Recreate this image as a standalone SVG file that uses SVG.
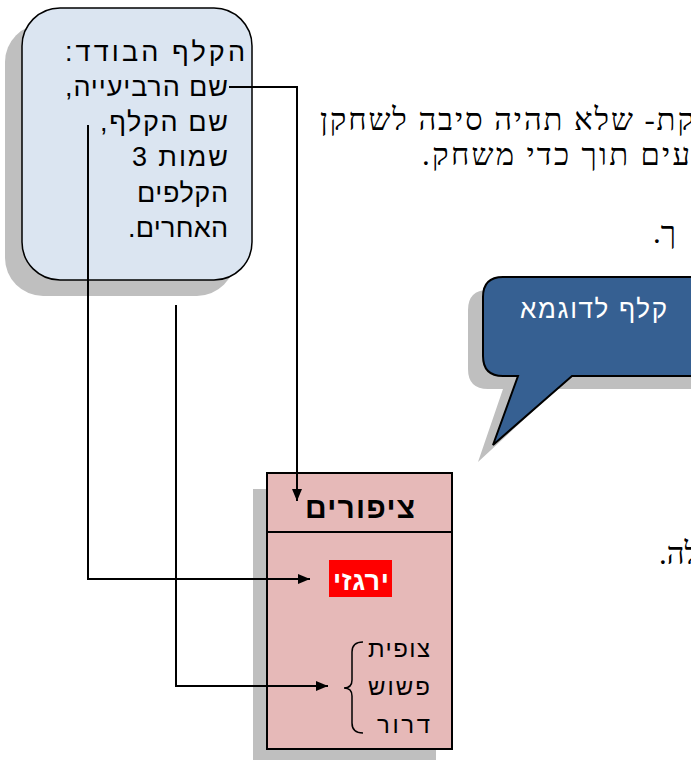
<svg xmlns="http://www.w3.org/2000/svg" width="691" height="760" viewBox="0 0 691 760">
<defs>
<style>
.heb{font-family:"Liberation Sans","DejaVu Sans",sans-serif;direction:rtl;unicode-bidi:embed}
.body{font-family:"Liberation Serif","DejaVu Serif",serif;font-size:31px;fill:#000;direction:rtl;unicode-bidi:embed}
.shadow{fill:#bfbfbf}
.conn{fill:none;stroke:#000;stroke-width:2}
</style>
<marker id="arr" viewBox="0 0 12 10" refX="12" refY="5" markerWidth="12" markerHeight="10" markerUnits="userSpaceOnUse" orient="auto">
<path d="M0,0 L12,5 L0,10 Z" fill="#000"/>
</marker>
</defs>
<rect width="691" height="760" fill="#fff"/>

<!-- background body text -->
<g id="body-text">
<text class="body" x="320" y="130" text-anchor="end" textLength="374" lengthAdjust="spacing">קת- שלא תהיה סיבה לשחקן</text>
<text class="body" x="422" y="165" text-anchor="end" textLength="268" lengthAdjust="spacing">עים תוך כדי משחק.</text>
<text class="body" x="653" y="243" text-anchor="end" font-size="38">ך.</text>
<text class="body" x="659" y="564" text-anchor="end">לה.</text>
</g>

<!-- single card description -->
<g id="card-note">
<rect class="shadow" x="5" y="24" width="230" height="272" rx="38"/>
<rect x="22" y="8" width="230" height="272" rx="38" fill="#dbe5f1" stroke="#000" stroke-width="1.5"/>
<g class="heb" font-size="27" fill="#000" text-anchor="start">
<text x="245" y="61" textLength="180" lengthAdjust="spacing">הקלף הבודד:</text>
<text x="228" y="96" textLength="163" lengthAdjust="spacing">שם הרביעייה,</text>
<text x="228" y="131" textLength="128" lengthAdjust="spacing">שם הקלף,</text>
<text x="228" y="166" textLength="96" lengthAdjust="spacing">שמות 3</text>
<text x="228" y="202" textLength="91" lengthAdjust="spacing">הקלפים</text>
<text x="228" y="237" textLength="100" lengthAdjust="spacing">האחרים.</text>
</g>
</g>

<!-- example callout -->
<g id="callout">
<path class="shadow" d="M488,290 H705 V389 H557 L478,462 L503,389 H488 Q468,389 468,369 V310 Q468,290 488,290 Z"/>
<path d="M503,277 H720 V376 H572 L493,445 L518,376 H503 Q483,376 483,356 V297 Q483,277 503,277 Z" fill="#366092" stroke="#000" stroke-width="2"/>
<text class="heb" x="667" y="318" font-size="26" fill="#fff" text-anchor="start" textLength="147" lengthAdjust="spacing">קלף לדוגמא</text>
</g>

<!-- bird card -->
<g id="bird-card">
<rect class="shadow" x="253" y="489" width="183" height="280"/>
<rect x="267" y="473" width="185" height="276" fill="#e6b9b8" stroke="#000" stroke-width="2"/>
<line x1="267" y1="532" x2="452" y2="532" stroke="#000" stroke-width="2"/>
<text class="heb" x="415" y="518" font-size="30" font-weight="bold" fill="#000" text-anchor="start" textLength="110" lengthAdjust="spacing">ציפורים</text>
<rect x="329" y="560" width="63" height="37" fill="#ff0000"/>
<text class="heb" x="389" y="590" font-size="27" font-weight="bold" fill="#fff" text-anchor="start" textLength="56" lengthAdjust="spacing">ירגזי</text>
<g class="heb" font-size="24" fill="#000" text-anchor="start">
<text x="430" y="657" textLength="62" lengthAdjust="spacing">צופית</text>
<text x="430" y="695" textLength="62" lengthAdjust="spacing">פשוש</text>
<text x="430" y="733" textLength="53" lengthAdjust="spacing">דרור</text>
</g>
<path d="M363,642 Q352,642 352,652 V680 Q352,688 344,688 Q352,688 352,696 V723 Q352,733 363,733" fill="none" stroke="#000" stroke-width="1.5"/>
</g>

<!-- connectors -->
<g id="connectors">
<path class="conn" d="M229,87 H297 V501" marker-end="url(#arr)"/>
<path class="conn" d="M88,125 V579 H310" marker-end="url(#arr)"/>
<path class="conn" d="M176,305 V686 H328" marker-end="url(#arr)"/>
</g>
</svg>
